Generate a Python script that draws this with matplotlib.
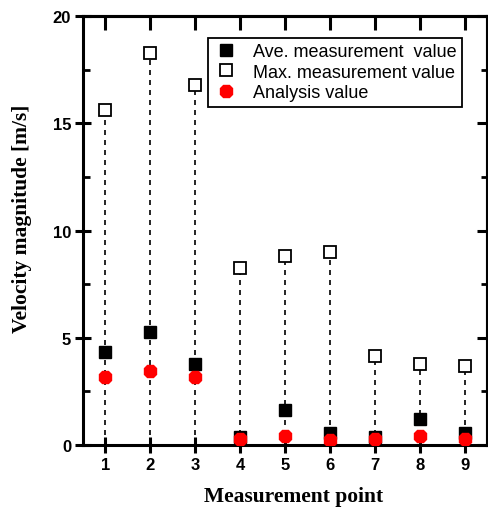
import matplotlib.pyplot as plt
from matplotlib.ticker import MultipleLocator, NullFormatter

# measurement points and velocities [m/s]
points = [1, 2, 3, 4, 5, 6, 7, 8, 9]
ave_values = [4.35, 5.25, 3.78, 0.37, 1.65, 0.56, 0.37, 1.21, 0.55]
max_values = [15.6, 18.3, 16.8, 8.25, 8.8, 9.0, 4.13, 3.76, 3.67]
analysis_values = [3.18, 3.45, 3.15, 0.28, 0.40, 0.25, 0.27, 0.40, 0.27]

fig = plt.figure(figsize=(4.88, 5.10), dpi=100)
ax = fig.add_axes([0.170, 0.1255, 0.828, 0.841])

# dotted drop lines from zero to the max value
for x, ymax in zip(points, max_values):
    ax.plot([x, x], [0, ymax], color="black", linestyle=(0, (3, 3)), linewidth=1.2, zorder=1)

ax.plot(points, ave_values, linestyle="none", marker="s", markersize=9,
        color="black", label="Ave. measurement  value", zorder=3)
ax.plot(points, max_values, linestyle="none", marker="s", markersize=9,
        markerfacecolor="white", markeredgecolor="black", markeredgewidth=1.3,
        label="Max. measurement value", zorder=3)
ax.plot(points, analysis_values, linestyle="none", marker="8", markersize=10,
        color="red", label="Analysis value", zorder=4)

ax.set_xlim(0.5, 9.5)
ax.set_ylim(0, 20)
ax.set_xticks(points)
ax.yaxis.set_major_locator(MultipleLocator(5))
ax.yaxis.set_minor_locator(MultipleLocator(2.5))

for side in ax.spines.values():
    side.set_linewidth(2.2)

# bottom/left ticks cross the spine, top/right ticks point inward
ax.tick_params(axis="both", which="major", direction="inout", length=11, width=2.2,
               labelsize=12, pad=3)
ax.tick_params(axis="y", which="minor", direction="in", length=5, width=2)
for lbl in ax.get_xticklabels() + ax.get_yticklabels():
    lbl.set_fontweight("bold")
    lbl.set_family("Liberation Sans")

top = ax.secondary_xaxis("top")
top.set_xticks(points)
top.xaxis.set_major_formatter(NullFormatter())
top.tick_params(direction="in", length=10, width=2.2)
right = ax.secondary_yaxis("right")
right.yaxis.set_major_locator(MultipleLocator(5))
right.yaxis.set_minor_locator(MultipleLocator(2.5))
right.yaxis.set_major_formatter(NullFormatter())
right.tick_params(which="major", direction="in", length=7, width=2.2)
right.tick_params(which="minor", direction="in", length=4, width=2)
for sec in (top, right):
    for side in sec.spines.values():
        side.set_linewidth(2.2)

ax.set_xlabel("Measurement point", fontsize=15.5, fontweight="bold",
              family="Liberation Serif")
ax.xaxis.set_label_coords(0.52, -0.095)
ax.set_ylabel("Velocity magnitude [m/s]", fontsize=15.5, fontweight="bold",
              family="Liberation Serif")
ax.yaxis.set_label_coords(-0.125, 0.53)

leg = ax.legend(loc="upper left", bbox_to_anchor=(0.31, 0.95), fancybox=False,
                edgecolor="black", framealpha=1, borderpad=0.3, handletextpad=0.8,
                labelspacing=0.2, prop={"family": "Liberation Sans", "size": 13},
                handlelength=1.4, borderaxespad=0)
leg.get_frame().set_linewidth(1.3)

plt.savefig("out.png")
